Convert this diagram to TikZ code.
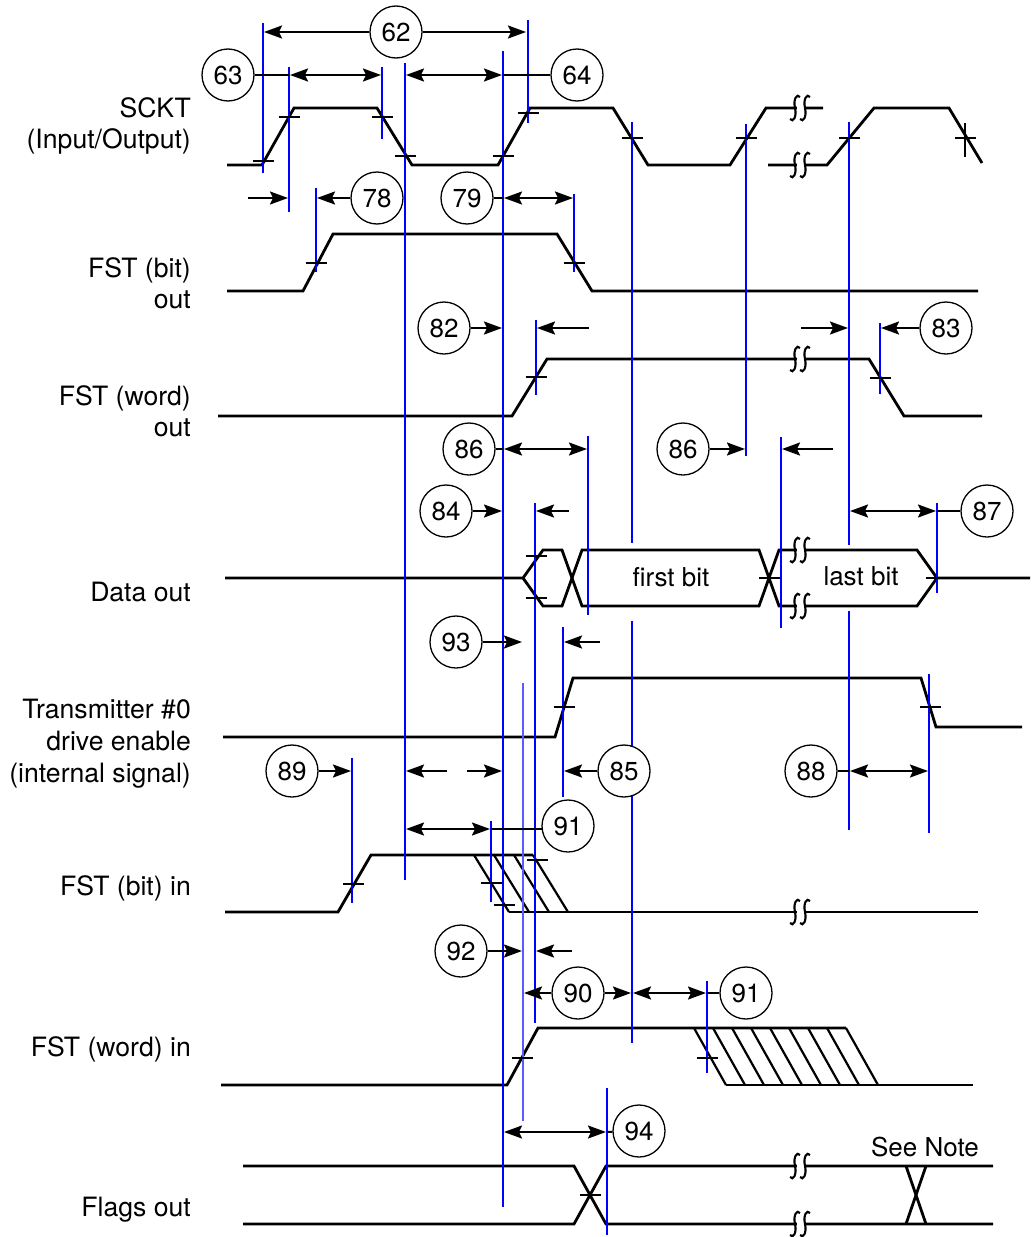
\documentclass[tikz,border=0pt]{standalone}
\usepackage{fontspec}
\setmainfont{TeX Gyre Heros}
\usetikzlibrary{arrows.meta}
\newcommand{\brkmark}[2]{%
  \fill[white] ({#1-3.5},{#2-2.8}) rectangle ({#1+3.5},{#2+2.8});
  \foreach \dx in {-5,5}{%
    \draw[line width=2.1pt] ({#1+\dx+5},{#2-11}) .. controls ({#1+\dx+2},{#2-15}) and ({#1+\dx-2},{#2-9}) .. ({#1+\dx},{#2}) .. controls ({#1+\dx+2},{#2+9}) and ({#1+\dx-2},{#2+15}) .. ({#1+\dx-5},{#2+11});}%
}
\begin{document}
\begin{tikzpicture}[x=1pt,y=-1pt,
  sig/.style={line width=2.8pt, line join=miter},
  hatch/.style={line width=2.2pt},
  bl/.style={blue, line width=2.3pt},
  thinbl/.style={color={rgb,255:red,90;green,90;blue,255}, line width=1.3pt},
  tk/.style={line width=2pt},
  dim/.style={line width=2pt},
  arr/.style={dim, -{Stealth[length=18pt,width=13pt,inset=3pt]}},
  darr/.style={dim, {Stealth[length=18pt,width=13pt,inset=3pt]}-{Stealth[length=18pt,width=13pt,inset=3pt]}},
  num/.style={circle, draw, fill=white, line width=1.3pt, minimum size=52pt, inner sep=0pt, font=\fontsize{26}{31}\selectfont},
  lab/.style={anchor=base east, inner sep=0pt, font=\fontsize{26.6}{31}\selectfont},
  txt/.style={inner sep=0pt, font=\fontsize{26}{31}\selectfont}
]
\useasboundingbox[fill=white] (0,0) rectangle (1031,1237);

% ---------- signal labels ----------
\node[lab] (l1) at (191,117) {SCKT};
\node[lab] (l2) at (191,148) {(Input/Output)};
\node[lab] (l3) at (191,277) {FST (bit)};
\node[lab] (l4) at (191,308) {out};
\node[lab] (l5) at (191,405) {FST (word)};
\node[lab] (l6) at (191,436) {out};
\node[lab] (l7) at (191,601) {Data out};
\node[lab] (l8) at (191,718) {Transmitter \#0};
\node[lab] (l9) at (191,750) {drive enable};
\node[lab] (l10) at (191,782) {(internal signal)};
\node[lab] (l11) at (191,895) {FST (bit) in};
\node[lab] (l12) at (191,1056) {FST (word) in};
\node[lab] (l13) at (191,1216) {Flags out};

% ---------- waveforms ----------
% SCKT
\draw[sig] (227,165) -- (262,165) -- (294,108) -- (377,108) -- (412,165) -- (498,165) -- (530,108) -- (613,108) -- (648,165) -- (730,165) -- (766,108) -- (823,108);
\draw[sig] (768,165) -- (827,165) -- (874,108) -- (949,108) -- (982,163);
% FST (bit) out
\draw[sig] (227,291) -- (303,291) -- (333,234) -- (557,234) -- (592,291) -- (978,291);
% FST (word) out
\draw[sig] (218,416) -- (512,416) -- (547,359) -- (869,359) -- (904,416) -- (982,416);
% Data out
\draw[sig] (225,578) -- (523,578) -- (543,550) -- (562,550) -- (582,606) -- (759,606) -- (779,550) -- (917,550) -- (937,578) -- (1030,578);
\draw[sig] (523,578) -- (543,606) -- (562,606) -- (582,550) -- (759,550) -- (779,606) -- (917,606) -- (937,578);
\node[txt] (fb) at (671,577) {first bit};
\node[txt] (lb) at (861,576) {last bit};
% Transmitter drive enable
\draw[sig] (223,737) -- (555,737) -- (573,678) -- (921,678) -- (936,727) -- (1022,727);
% FST (bit) in
\draw[sig] (225,912) -- (338,912) -- (371,855) -- (533,855);
\draw[sig] (509,912) -- (978,912);
\foreach \t in {474,494,514,533} \draw[hatch] (\t,855) -- ({\t+35},912);
% FST (word) in
\draw[sig] (221,1085) -- (507,1085) -- (538,1028) -- (846,1028);
\draw[sig] (726,1085) -- (973,1085);
\foreach \k in {0,...,8} \draw[hatch] ({694+19*\k},1028) -- ({726+19*\k},1085);
% Flags out
\draw[sig] (243,1166) -- (574,1166) -- (606,1224) -- (993,1224);
\draw[sig] (243,1224) -- (574,1224) -- (606,1166) -- (993,1166);
\draw[sig] (906,1166) -- (926,1224);
\draw[sig] (906,1224) -- (926,1166);
\node[txt] (note) at (925,1147) {See Note};

% ---------- breaks ----------
\brkmark{800}{108}
\brkmark{800}{165}
\brkmark{800}{359}
\brkmark{800}{550}
\brkmark{800}{606}
\brkmark{800}{912}
\brkmark{800}{1166}
\brkmark{800}{1224}

% ---------- blue reference lines ----------
\draw[bl] (263,23) -- (263,173);
\draw[bl] (289,67) -- (289,212);
\draw[bl] (382,67) -- (382,139);
\draw[bl] (405,63) -- (405,880);
\draw[bl] (503,51) -- (503,1207);
\draw[bl] (528,20) -- (528,123);
\draw[bl] (316,188) -- (316,272);
\draw[bl] (574,194) -- (574,272);
\draw[bl] (632,122) -- (632,543);
\draw[bl] (632,621) -- (632,1043);
\draw[bl] (746,124) -- (746,456);
\draw[bl] (849,122) -- (849,545);
\draw[bl] (849,611) -- (849,830);
\draw[bl] (536,320) -- (536,395);
\draw[bl] (880,323) -- (880,394);
\draw[bl] (588,436) -- (588,615);
\draw[bl] (781,437) -- (781,628);
\draw[bl] (535,503) -- (535,1023);
\draw[bl] (937,503) -- (937,593);
\draw[thinbl] (523,683) -- (523,1121);
\draw[bl] (563,627) -- (563,797);
\draw[bl] (929,674) -- (929,833);
\draw[bl] (352,758) -- (352,903);
\draw[bl] (491,821) -- (491,902);
\draw[bl] (707,981) -- (707,1073);
\draw[bl] (607,1088) -- (607,1235);

% ---------- ticks ----------
\foreach \x/\y in {263/161, 289/117, 382/117, 405/156, 503/156, 528/113, 632/138, 746/138, 849/138, 965/138,
  316/263, 574/263, 536/377, 880/378, 536/556, 536/598, 769/578, 936/578, 564/707, 930/707,
  353/884, 491/883, 504/905, 537/860, 522/1058, 707/1058, 590/1195}
  \draw[tk] ({\x-10.5},\y) -- ({\x+10.5},\y);
\draw[tk] (965,123) -- (965,157);

% ---------- circled numbers ----------
\node[num] (c62) at (396,32) {62};
\node[num] (c63) at (228,75) {63};
\node[num] (c64) at (577,75) {64};
\node[num] (c78) at (377,198) {78};
\node[num] (c79) at (467,198) {79};
\node[num] (c82) at (444,328) {82};
\node[num] (c83) at (946,328) {83};
\node[num] (c86a) at (469,449) {86};
\node[num] (c86b) at (683,449) {86};
\node[num] (c84) at (446,511) {84};
\node[num] (c87) at (987,511) {87};
\node[num] (c93) at (456,642) {93};
\node[num] (c89) at (292,771) {89};
\node[num] (c85) at (624,771) {85};
\node[num] (c88) at (811,771) {88};
\node[num] (c91a) at (568,826) {91};
\node[num] (c92) at (461,951) {92};
\node[num] (c90) at (578,993) {90};
\node[num] (c91b) at (746,993) {91};
\node[num] (c94) at (639,1131) {94};

% ---------- timing arrows ----------
\draw[arr] (c62) -- (264,32);
\draw[arr] (c62) -- (526,32);
\draw[dim] (c63) -- (289,75);
\draw[darr] (290,75) -- (381,75);
\draw[darr] (406,75) -- (502,75);
\draw[dim] (503,75) -- (c64);
\draw[arr] (248,198) -- (288,198);
\draw[arr] (c78) -- (317,198);
\draw[dim] (c79) -- (503,198);
\draw[darr] (504,198) -- (573,198);
\draw[arr] (c82) -- (502,328);
\draw[arr] (589,328) -- (537,328);
\draw[arr] (801,328) -- (848,328);
\draw[arr] (c83) -- (881,328);
\draw[dim] (c86a) -- (503,449);
\draw[darr] (504,449) -- (587,449);
\draw[arr] (c86b) -- (745,449);
\draw[arr] (833,449) -- (782,449);
\draw[arr] (c84) -- (502,511);
\draw[arr] (569,511) -- (536,511);
\draw[darr] (850,511) -- (936,511);
\draw[dim] (937,511) -- (c87);
\draw[arr] (c93) -- (522,642);
\draw[arr] (600,642) -- (564,642);
\draw[arr] (c89) -- (351,771);
\draw[arr] (447,771) -- (406,771);
\draw[arr] (467,771) -- (502,771);
\draw[arr] (c85) -- (564,771);
\draw[dim] (c88) -- (849,771);
\draw[darr] (850,771) -- (928,771);
\draw[darr] (406,829) -- (490,829);
\draw[dim] (491,829) -- (542.3,829);
\draw[arr] (c92) -- (522,951);
\draw[arr] (572,951) -- (536,951);
\draw[arr] (c90) -- (524,993);
\draw[arr] (c90) -- (631,993);
\draw[darr] (633,993) -- (706,993);
\draw[dim] (707,993) -- (c91b);
\draw[darr] (504,1132) -- (606,1132);
\draw[dim] (607,1132) -- (c94);
\end{tikzpicture}
\end{document}
